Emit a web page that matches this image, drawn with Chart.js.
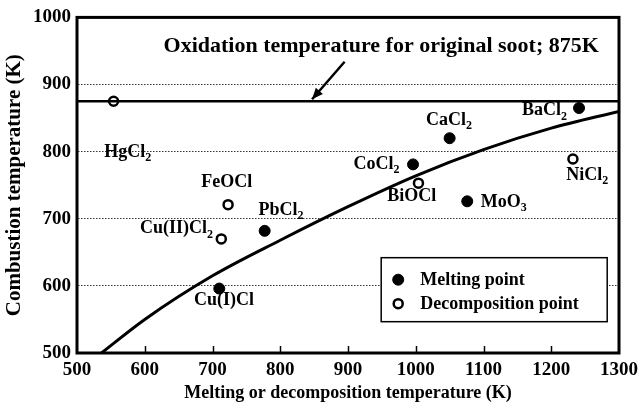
<!DOCTYPE html>
<html>
<head>
<meta charset="utf-8">
<script src="https://cdn.jsdelivr.net/npm/chart.js@4.4.1/dist/chart.umd.min.js"></script>
<style>
  html, body { margin: 0; padding: 0; background: #fff; }
  #wrap { width: 644px; height: 408px; }
</style>
</head>
<body>
<div id="wrap"><canvas id="chart" width="644" height="408"></canvas></div>
<script>
// axis ticks
const xTicks = [500, 600, 700, 800, 900, 1000, 1100, 1200, 1300];
const yTicks = [500, 600, 700, 800, 900, 1000];

// soot oxidation temperature (K)
const sootTemp = 875;

// melting points (filled markers)
const meltNames = ["CaCl2", "BaCl2", "CoCl2", "MoO3", "PbCl2", "Cu(I)Cl"];
const meltX = [1050, 1241, 996, 1076, 777, 710];
const meltY = [820, 865, 781, 726, 682, 596];

// decomposition points (open markers)
const decNames = ["HgCl2", "NiCl2", "BiOCl", "FeOCl", "Cu(II)Cl2"];
const decX = [554, 1232, 1004, 723, 713];
const decY = [875, 789, 753, 721, 670];

// trend curve
const curveX = [536, 600, 700, 800, 900, 1000, 1100, 1200, 1300];
const curveY = [500, 550, 615, 668, 718, 764, 803, 835, 860];

// where each label sits (data units, text centre)
const labelPos = {
  "CaCl2": [1049, 847], "BaCl2": [1190, 861], "CoCl2": [942, 781],
  "MoO3": [1130, 725], "PbCl2": [801, 713], "Cu(I)Cl": [717, 578],
  "HgCl2": [575, 799], "NiCl2": [1253, 765], "BiOCl": [994, 734],
  "FeOCl": [721, 755], "Cu(II)Cl2": [647, 685]
};

const FONT = '"Liberation Serif", "Times New Roman", serif';
const pts = (xs, ys) => xs.map((x, i) => ({ x, y: ys[i] }));

// draws "HgCl2" as HgCl + subscript 2
function drawChem(ctx, name, cx, cy) {
  const m = name.match(/^(.*?)(\d)$/);
  const main = m ? m[1] : name, sub = m ? m[2] : "";
  ctx.font = "bold 18px " + FONT;
  const w1 = ctx.measureText(main).width;
  ctx.font = "bold 12px " + FONT;
  const w2 = sub ? ctx.measureText(sub).width : 0;
  const x0 = cx - (w1 + w2) / 2;
  ctx.textAlign = "left";
  ctx.textBaseline = "middle";
  ctx.font = "bold 18px " + FONT;
  ctx.fillText(main, x0, cy);
  if (sub) {
    ctx.font = "bold 12px " + FONT;
    ctx.fillText(sub, x0 + w1, cy + 6);
  }
}

const decorations = {
  id: "decorations",
  beforeDatasetsDraw(chart) {
    const { ctx, chartArea: a, scales: { x } } = chart;
    ctx.save();
    // inward ticks along the bottom
    ctx.strokeStyle = "#000";
    ctx.lineWidth = 1.5;
    xTicks.slice(1, -1).forEach(v => {
      const px = Math.round(x.getPixelForValue(v)) + 0.5;
      ctx.beginPath();
      ctx.moveTo(px, a.bottom);
      ctx.lineTo(px, a.bottom - 7);
      ctx.stroke();
    });
    ctx.restore();
  },
  afterDatasetsDraw(chart) {
    const { ctx, chartArea: a, scales: { x, y } } = chart;
    ctx.save();
    ctx.fillStyle = "#000";
    // point labels
    Object.keys(labelPos).forEach(n => {
      const [lx, ly] = labelPos[n];
      drawChem(ctx, n, x.getPixelForValue(lx), y.getPixelForValue(ly));
    });
    // annotation + arrow
    ctx.font = "bold 22px " + FONT;
    ctx.textAlign = "center";
    ctx.textBaseline = "middle";
    ctx.fillText("Oxidation temperature for original soot; 875K", x.getPixelForValue(949), y.getPixelForValue(957));
    const tx = x.getPixelForValue(895), ty = y.getPixelForValue(934);
    const hx = x.getPixelForValue(847), hy = y.getPixelForValue(878);
    ctx.strokeStyle = "#000";
    ctx.lineWidth = 2.5;
    ctx.beginPath(); ctx.moveTo(tx, ty); ctx.lineTo(hx, hy); ctx.stroke();
    const ang = Math.atan2(hy - ty, hx - tx), L = 12;
    ctx.beginPath();
    ctx.moveTo(hx, hy);
    ctx.lineTo(hx - L * Math.cos(ang - 0.4), hy - L * Math.sin(ang - 0.4));
    ctx.lineTo(hx - L * Math.cos(ang + 0.4), hy - L * Math.sin(ang + 0.4));
    ctx.closePath(); ctx.fill();

    // legend box
    const bx = x.getPixelForValue(949), by = y.getPixelForValue(642);
    const bw = 226, bh = 64;
    ctx.fillStyle = "#fff";
    ctx.fillRect(bx, by, bw, bh);
    ctx.strokeStyle = "#000";
    ctx.lineWidth = 1.5;
    ctx.strokeRect(bx, by, bw, bh);
    ctx.font = "bold 18px " + FONT;
    ctx.textAlign = "left";
    chart.data.datasets.slice(2).forEach((ds, i) => {
      const yy = by + 22 + i * 24;
      ctx.beginPath();
      ctx.arc(bx + 17, yy, ds.pointRadius, 0, Math.PI * 2);
      ctx.fillStyle = ds.pointBackgroundColor;
      ctx.fill();
      ctx.lineWidth = ds.pointBorderWidth;
      ctx.strokeStyle = "#000";
      ctx.stroke();
      ctx.fillStyle = "#000";
      ctx.fillText(ds.label, bx + 39, yy + 1);
    });

    // frame
    ctx.lineWidth = 3;
    ctx.strokeRect(a.left, a.top, a.right - a.left, a.bottom - a.top);
    ctx.restore();
  }
};

new Chart(document.getElementById("chart"), {
  type: "scatter",
  data: {
    datasets: [
      {
        label: "Soot",
        type: "line",
        data: pts([500, 1300], [sootTemp, sootTemp]),
        borderColor: "#000",
        borderWidth: 2.5,
        pointRadius: 0,
      },
      {
        label: "Trend",
        type: "line",
        data: pts(curveX, curveY),
        borderColor: "#000",
        borderWidth: 3,
        pointRadius: 0,
        cubicInterpolationMode: "monotone",
      },
      {
        label: "Melting point",
        data: pts(meltX, meltY),
        pointRadius: 5.5,
        pointBackgroundColor: "#000",
        pointBorderColor: "#000",
        pointBorderWidth: 1,
      },
      {
        label: "Decomposition point",
        data: pts(decX, decY),
        pointRadius: 4.5,
        pointBackgroundColor: "#fff",
        pointBorderColor: "#000",
        pointBorderWidth: 2.5,
      },
    ],
  },
  options: {
    responsive: false,
    animation: false,
    layout: { padding: { top: 13, right: 24, left: 2, bottom: 4 } },
    scales: {
      x: {
        type: "linear",
        min: 500,
        max: 1300,
        afterBuildTicks: s => { s.ticks = xTicks.map(v => ({ value: v })); },
        afterFit: s => { s.height = 51; },
        grid: { display: false, drawTicks: false },
        border: { display: false },
        ticks: { color: "#000", padding: 6, callback: v => String(v), font: { family: FONT, size: 19, weight: "bold" } },
        title: {
          display: true,
          text: "Melting or decomposition temperature (K)",
          color: "#000",
          padding: { top: 1, bottom: 0 },
          font: { family: FONT, size: 18, weight: "bold" },
        },
      },
      y: {
        min: 500,
        max: 1000,
        afterBuildTicks: s => { s.ticks = yTicks.map(v => ({ value: v })); },
        afterFit: s => { s.width = 75; },
        grid: {
          drawTicks: false,
          color: c => (c.tick.value > 500 && c.tick.value < 1000 ? "#333" : "rgba(0,0,0,0)"),
          lineWidth: 1,
        },
        border: { display: true, color: "rgba(0,0,0,0)", dash: [1.5, 1.5] },
        ticks: { color: "#000", padding: 6, callback: v => String(v), font: { family: FONT, size: 19, weight: "bold" } },
        title: {
          display: true,
          text: "Combustion temperature (K)",
          color: "#000",
          padding: { top: 0, bottom: 1 },
          font: { family: FONT, size: 21, weight: "bold" },
        },
      },
    },
    plugins: {
      legend: { display: false },
      tooltip: { enabled: false },
    },
  },
  plugins: [decorations],
});
</script>
</body>
</html>
